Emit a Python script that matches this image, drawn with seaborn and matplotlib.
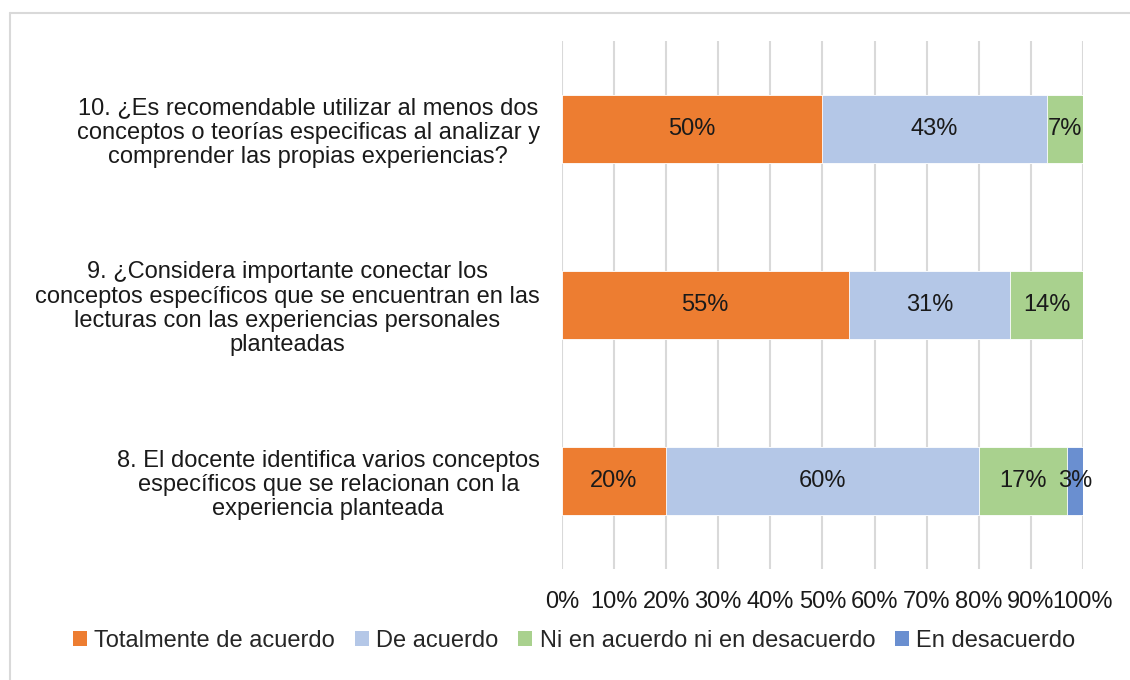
import numpy as np
import pandas as pd
import matplotlib.pyplot as plt
import seaborn as sns
from matplotlib.lines import Line2D
from matplotlib.patches import Patch

# survey questions, top to bottom
questions = [
    "10. ¿Es recomendable utilizar al menos dos\nconceptos o teorías especificas al analizar y\ncomprender las propias experiencias?",
    "9. ¿Considera importante conectar los\nconceptos específicos que se encuentran en las\nlecturas con las experiencias personales\nplanteadas",
    "8. El docente identifica varios conceptos\nespecíficos que se relacionan con la\nexperiencia planteada",
]
series = ["Totalmente de acuerdo", "De acuerdo",
          "Ni en acuerdo ni en desacuerdo", "En desacuerdo"]
totalmente = [50, 55, 20]
de_acuerdo = [43, 31, 60]
ni_ni = [7, 14, 17]
desacuerdo = [0, 0, 3]
colors = ["#ED7D31", "#B4C7E7", "#A9D18E", "#6A8FD0"]
xticks = [0, 10, 20, 30, 40, 50, 60, 70, 80, 90, 100]

FS = 17

sns.set_theme(style="white")
plt.rcParams["font.family"] = ["Liberation Sans", "DejaVu Sans"]

vals = np.array([totalmente, de_acuerdo, ni_ni, desacuerdo], dtype=float)
cum = vals.cumsum(axis=0)

fig = plt.figure(figsize=(11.3, 6.8), dpi=100)
ax = fig.add_axes([0.4973, 0.1632, 0.4611, 0.7765])

# draw cumulative bars from the longest down so each segment shows
for i in range(len(series) - 1, -1, -1):
    df = pd.DataFrame({"q": questions, "v": cum[i]})
    sns.barplot(data=df, x="v", y="q", color=colors[i], width=0.39,
                saturation=1, edgecolor="white", linewidth=0.6, ax=ax)

# value labels in the middle of each segment
for i in range(len(series)):
    for j in range(len(questions)):
        if vals[i, j] > 0:
            mid = cum[i, j] - vals[i, j] / 2
            ax.text(mid, j, f"{vals[i, j]:.0f}%", ha="center", va="center",
                    fontsize=FS, color="#1a1a1a")

ax.set_xlim(0, 100)
ax.set_ylim(2.5, -0.5)
ax.set_xticks(xticks)
ax.set_xticklabels([f"{t}%" for t in xticks], fontsize=FS, color="#1a1a1a")
ax.set_yticks(range(len(questions)))
ax.set_yticklabels(questions, fontsize=FS, color="#1a1a1a", multialignment="center")
for lbl in ax.get_yticklabels():
    lbl.set_linespacing(1.12)
ax.tick_params(axis="x", length=0, pad=16)
ax.tick_params(axis="y", length=0, pad=16)
ax.set_xlabel("")
ax.set_ylabel("")
ax.grid(axis="x", color="#D9D9D9", linewidth=1.5)
ax.set_axisbelow(True)
for s in ax.spines.values():
    s.set_visible(False)

handles = [Patch(facecolor=c, edgecolor="none") for c in colors]
fig.legend(handles, series, loc="center", bbox_to_anchor=(0.508, 1 - 641 / 680),
           ncol=4, frameon=False, fontsize=FS, handlelength=0.6, handleheight=0.6,
           handletextpad=0.3, columnspacing=0.85)

# chart border (light gray, left/top visible)
ytop = 1 - 13 / 680
xl = 9.5 / 1130
fig.add_artist(Line2D([xl, xl], [0, ytop], color="#D9D9D9", lw=1.5, transform=fig.transFigure))
fig.add_artist(Line2D([xl, 1], [ytop, ytop], color="#D9D9D9", lw=1.5, transform=fig.transFigure))

fig.savefig("out.png", dpi=100, facecolor="white")
